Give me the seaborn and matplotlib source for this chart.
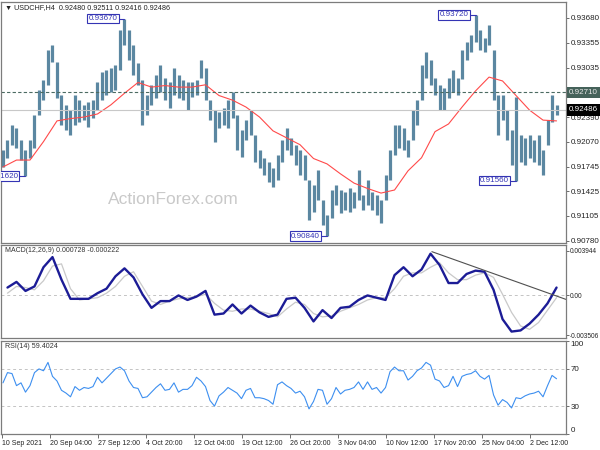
import numpy as np
import matplotlib
matplotlib.use("Agg")
import matplotlib.pyplot as plt
import matplotlib.transforms as mtransforms
import seaborn as sns

# ---------------------------------------------------------------------------
# Data (USDCHF H4, one entry per ~3 candles)
# ---------------------------------------------------------------------------

BAR_HIGHS = [
    0.9196, 0.9209, 0.9229, 0.9225, 0.9209, 0.9196, 0.9209, 0.9242, 0.9274, 0.9287,
    0.9326, 0.9333, 0.9311, 0.9268, 0.9255, 0.9248, 0.9268, 0.9261, 0.9255, 0.9258,
    0.9261, 0.9285, 0.9298, 0.9300, 0.9303, 0.9307, 0.9352, 0.9367, 0.9352, 0.9333,
    0.9309, 0.9287, 0.9268, 0.9281, 0.9294, 0.9307, 0.9290, 0.9285, 0.9303, 0.9294,
    0.9287, 0.9285, 0.9285, 0.9287, 0.9313, 0.9303, 0.9261, 0.9248, 0.9246, 0.9251,
    0.9261, 0.9272, 0.9242, 0.9222, 0.9235, 0.9248, 0.9216, 0.9196, 0.9186, 0.9181,
    0.9173, 0.9190, 0.9209, 0.9225, 0.9212, 0.9203, 0.9196, 0.9190, 0.9157, 0.9151,
    0.9170, 0.9131, 0.9112, 0.9144, 0.9151, 0.9144, 0.9142, 0.9147, 0.9142, 0.9170,
    0.9138, 0.9157, 0.9142, 0.9138, 0.9131, 0.9164, 0.9196, 0.9229, 0.9229, 0.9225,
    0.9209, 0.9248, 0.9261, 0.9307, 0.9324, 0.9313, 0.9290, 0.9281, 0.9277, 0.9290,
    0.9300, 0.9290, 0.9326, 0.9337, 0.9346, 0.9372, 0.9352, 0.9342, 0.9359, 0.9326,
    0.9268, 0.9268, 0.9248, 0.9222, 0.9265, 0.9216, 0.9212, 0.9216, 0.9209, 0.9216,
    0.9196, 0.9235, 0.9268, 0.9255,
]
BAR_LOWS = [
    0.9174, 0.9186, 0.9203, 0.9199, 0.9183, 0.9162, 0.9186, 0.9199, 0.9242, 0.9261,
    0.9281, 0.9311, 0.9264, 0.9229, 0.9222, 0.9215, 0.9229, 0.9232, 0.9235, 0.9226,
    0.9238, 0.9248, 0.9261, 0.9268, 0.9272, 0.9274, 0.9300, 0.9333, 0.9313, 0.9294,
    0.9281, 0.9229, 0.9242, 0.9255, 0.9264, 0.9272, 0.9261, 0.9251, 0.9268, 0.9264,
    0.9261, 0.9248, 0.9265, 0.9268, 0.9290, 0.9261, 0.9235, 0.9207, 0.9225, 0.9229,
    0.9225, 0.9238, 0.9196, 0.9187, 0.9209, 0.9216, 0.9181, 0.9173, 0.9164, 0.9155,
    0.9148, 0.9157, 0.9181, 0.9196, 0.9190, 0.9177, 0.9164, 0.9157, 0.9105, 0.9116,
    0.9131, 0.9099, 0.9084, 0.9108, 0.9125, 0.9114, 0.9118, 0.9116, 0.9120, 0.9131,
    0.9118, 0.9125, 0.9118, 0.9112, 0.9101, 0.9131, 0.9157, 0.9190, 0.9199, 0.9196,
    0.9187, 0.9209, 0.9229, 0.9261, 0.9290, 0.9281, 0.9268, 0.9248, 0.9248, 0.9264,
    0.9272, 0.9268, 0.9288, 0.9313, 0.9324, 0.9337, 0.9326, 0.9324, 0.9333, 0.9261,
    0.9216, 0.9235, 0.9209, 0.9177, 0.9156, 0.9181, 0.9177, 0.9186, 0.9181, 0.9177,
    0.9164, 0.9203, 0.9232, 0.9242,
]

# moving average, sampled every 3rd bar
MA_VALUES = [
    0.9174, 0.9183, 0.9183, 0.9207, 0.9234, 0.9237, 0.9239, 0.9243, 0.9255, 0.9270,
    0.9284, 0.9278, 0.9280, 0.9278, 0.9278, 0.9281, 0.9267, 0.9261, 0.9252, 0.9239,
    0.9221, 0.9212, 0.9203, 0.9185, 0.9178, 0.9165, 0.9153, 0.9146, 0.9140, 0.9144,
    0.9169, 0.9186, 0.9220, 0.9230, 0.9252, 0.9273, 0.9291, 0.9286, 0.9267, 0.9248,
    0.9235, 0.9234,
]

# MACD main / signal, sampled every 2nd bar
MACD_MAIN = [
    0.0007, 0.0012, 0.0004, 0.0008, 0.0025, 0.0034, 0.0014, -0.0003, -0.0003, -0.0003,
    0.0002, 0.0006, 0.0017, 0.0024, 0.0016, 0.0001, -0.0011, -0.0005, -0.0005, 0.0000,
    -0.0004, -0.0001, 0.0004, -0.0017, -0.0016, -0.0008, -0.0016, -0.0009, -0.0015, -0.0019,
    -0.0017, -0.0003, -0.0002, -0.0011, -0.0023, -0.0013, -0.0020, -0.0011, -0.0010, -0.0004,
    0.0000, -0.0002, -0.0004, 0.0018, 0.0025, 0.0017, 0.0023, 0.0037, 0.0027, 0.0011,
    0.0011, 0.0019, 0.0022, 0.0021, 0.0005, -0.0021, -0.0032, -0.0031, -0.0025, -0.0017,
    -0.0007, 0.0007,
]
MACD_SIGNAL = [
    0.0002, 0.0008, 0.0007, 0.0005, 0.0013, 0.0026, 0.0028, 0.0006, -0.0004, -0.0003,
    -0.0002, 0.0002, 0.0008, 0.0017, 0.0021, 0.0008, -0.0005, -0.0008, -0.0005, -0.0003,
    -0.0002, -0.0001, 0.0001, -0.0007, -0.0013, -0.0014, -0.0012, -0.0012, -0.0014, -0.0016,
    -0.0019, -0.0012, -0.0006, -0.0008, -0.0016, -0.0019, -0.0018, -0.0014, -0.0011, -0.0008,
    -0.0004, -0.0002, -0.0002, 0.0006, 0.0017, 0.0020, 0.0020, 0.0025, 0.0029, 0.0020,
    0.0014, 0.0014, 0.0018, 0.0020, 0.0016, 0.0001, -0.0015, -0.0027, -0.0030, -0.0024,
    -0.0013, -0.0002,
]
MACD_TREND_X = [95.3, 125.1]
MACD_TREND_Y = [0.00388, -0.00035]

RSI_VALUES = [
    55, 66, 65, 52, 55, 45, 52, 66, 70, 68,
    77, 62, 57, 47, 44, 40, 51, 47, 50, 49,
    51, 61, 55, 60, 65, 70, 72, 68, 57, 50,
    49, 39, 40, 45, 50, 54, 47, 48, 55, 45,
    48, 48, 52, 61, 57, 51, 36, 30, 41, 45,
    50, 47, 44, 38, 47, 49, 39, 39, 38, 36,
    32, 53, 56, 52, 49, 44, 46, 40, 27, 35,
    48, 47, 32, 38, 50, 43, 47, 48, 50, 56,
    48, 56, 48, 50, 44, 50, 67, 72, 68, 68,
    58, 62, 68, 71, 77, 74, 59, 57, 50, 52,
    62, 51, 62, 64, 65, 68, 62, 59, 63, 42,
    31, 37, 34, 28, 39, 38, 41, 43, 44, 46,
    40, 52, 63, 59.4,
]

PEAK_BARS = [5, 27, 72, 105, 114]
PEAK_PRICES = [0.91620, 0.93670, 0.90840, 0.93720, 0.91560]

PRICE_TICKS = [0.93680, 0.93355, 0.93035, 0.92390, 0.92070,
               0.91745, 0.91425, 0.91105, 0.90780]
LEVEL_PRICE = 0.92710
LAST_PRICE = 0.92486

X_LABELS = ["10 Sep 2021", "20 Sep 04:00", "27 Sep 12:00", "4 Oct 20:00",
            "12 Oct 04:00", "19 Oct 12:00", "26 Oct 20:00", "3 Nov 04:00",
            "10 Nov 12:00", "17 Nov 20:00", "25 Nov 04:00", "2 Dec 12:00"]

# ---------------------------------------------------------------------------
# Styling
# ---------------------------------------------------------------------------

BAR_COLOR = "#5b87a1"
MA_COLOR = "#ff4a4a"
LABEL_BLUE = "#3434b4"
BORDER = "#7c7c7c"
FS = 5.8

sns.set_theme(style="white")
plt.rcParams["font.family"] = ["Liberation Sans", "DejaVu Sans"]

W, H = 600, 450
fig = plt.figure(figsize=(6, 4.5), dpi=100)


def panel(top, bottom):
    return fig.add_axes([1 / W, 1 - bottom / H, 565 / W, (bottom - top) / H])


ax_p = panel(2, 243)
ax_m = panel(245, 338)
ax_r = panel(341, 434)

XLIM = (-0.44, 125.1)
for ax in (ax_p, ax_m, ax_r):
    ax.set_xlim(*XLIM)
    ax.set_facecolor("white")
    for sp in ax.spines.values():
        sp.set_color(BORDER)
        sp.set_linewidth(0.9)
    ax.yaxis.tick_right()
    ax.tick_params(axis="y", length=2.5, width=0.6, color="#555555",
                   labelsize=FS, pad=0.8, labelcolor="#222222", right=True)
    ax.tick_params(axis="x", bottom=False, labelbottom=False)
    ax.grid(False)

# ---------------------------------------------------------------------------
# Price panel
# ---------------------------------------------------------------------------

bar_idx = np.arange(len(BAR_HIGHS))
ax_p.vlines(bar_idx, BAR_LOWS, BAR_HIGHS, color=BAR_COLOR, lw=2.3)

ma_idx = np.arange(0, len(BAR_HIGHS), 3)
sns.lineplot(x=ma_idx, y=MA_VALUES, ax=ax_p, color=MA_COLOR, lw=0.8,
             legend=False)

ax_p.axhline(LEVEL_PRICE, color="#4b6b62", lw=0.8, ls=(0, (3, 2)))
ax_p.axhline(LAST_PRICE, color="#c8c8c8", lw=0.8)
ax_p.set_ylim(0.9075, 0.93888)
ax_p.set_yticks(PRICE_TICKS + [LEVEL_PRICE, LAST_PRICE])
ax_p.set_yticklabels([f"{v:.5f}" for v in PRICE_TICKS] + ["", ""])
ax_p.set_xlabel("")
ax_p.set_ylabel("")

trans = mtransforms.blended_transform_factory(ax_p.transAxes, ax_p.transData)
ax_p.text(1.0 + 3 / 565, LEVEL_PRICE, f"{LEVEL_PRICE:.5f}", transform=trans,
          fontsize=FS, color="#e8e8e8", va="center", ha="left", clip_on=False,
          bbox=dict(boxstyle="square,pad=0.3", fc="#45625a", ec="none"))
ax_p.text(1.0 + 3 / 565, LAST_PRICE, f"{LAST_PRICE:.5f}", transform=trans,
          fontsize=FS, color="white", va="center", ha="left", clip_on=False,
          bbox=dict(boxstyle="square,pad=0.3", fc="black", ec="none"))

for b, p in zip(PEAK_BARS, PEAK_PRICES):
    ax_p.plot([b - 1.6, b], [p, p], color=LABEL_BLUE, lw=0.8)
    ax_p.text(b - 1.6, p, f"{p:.5f}", fontsize=FS, color=LABEL_BLUE,
              ha="right", va="center", clip_on=True,
              bbox=dict(boxstyle="square,pad=0.15", fc="white",
                        ec=LABEL_BLUE, lw=0.8))

fig.text(5 / W, 1 - 8 / H, "\u25bc USDCHF,H4  0.92480 0.92511 0.92416 0.92486",
         fontsize=5.2, color="#222222", va="center", ha="left")
fig.text(173 / W, 1 - 199 / H, "ActionForex.com", fontsize=12.5,
         color="#c9c9c9", ha="center", va="center")

# ---------------------------------------------------------------------------
# MACD panel
# ---------------------------------------------------------------------------

macd_idx = np.arange(1, len(BAR_HIGHS), 2)
ax_m.axhline(0, color="#c4c4c4", lw=0.7, ls=(0, (3, 3)))
sns.lineplot(x=macd_idx, y=MACD_SIGNAL, ax=ax_m, color="#c9c9c9", lw=0.9,
             legend=False)
sns.lineplot(x=macd_idx, y=MACD_MAIN, ax=ax_m, color="#1c1c96", lw=1.7,
             legend=False)
sns.lineplot(x=MACD_TREND_X, y=MACD_TREND_Y, ax=ax_m, color="#505050", lw=0.8,
             legend=False)
ax_m.set_ylim(-0.00377, 0.00447)
ax_m.set_yticks([0.003944, 0.0, -0.003506])
ax_m.set_yticklabels(["0.003944", "0.00", "-0.003506"])
ax_m.tick_params(axis="y", labelsize=4.7, pad=0.5)
ax_m.set_xlabel("")
ax_m.set_ylabel("")
fig.text(5 / W, 1 - 250 / H, "MACD(12,26,9) 0.000728 -0.000222",
         fontsize=5.0, color="#333333", va="center", ha="left")

# ---------------------------------------------------------------------------
# RSI panel
# ---------------------------------------------------------------------------

ax_r.axhline(70, color="#c4c4c4", lw=0.7, ls=(0, (3, 3)))
ax_r.axhline(30, color="#c4c4c4", lw=0.7, ls=(0, (3, 3)))
sns.lineplot(x=bar_idx, y=RSI_VALUES, ax=ax_r, color="#3d8ff0", lw=0.8,
             legend=False)
ax_r.set_ylim(0, 100)
ax_r.set_yticks([100, 70, 30, 0])
ax_r.set_yticklabels(["100", "70", "30", "0"])
labels = ax_r.get_yticklabels()
labels[0].set_va("top")
labels[3].set_va("bottom")
ax_r.set_ylabel("")
fig.text(5 / W, 1 - 347 / H, "RSI(14) 59.4024",
         fontsize=5.1, color="#333333", va="center", ha="left")

# date axis: one label every 48 px, i.e. every 32 H4 candles
tick_pos = (2 + 48 * np.arange(len(X_LABELS)) - 3) / 4.5
ax_r.set_xticks(tick_pos)
ax_r.set_xticklabels(X_LABELS, ha="left")
ax_r.tick_params(axis="x", bottom=True, labelbottom=True, length=3,
                 width=0.6, color="#555555", labelsize=5.0, pad=1,
                 labelcolor="#222222")
ax_r.set_xlabel("")

fig.savefig("out.png", dpi=100)
